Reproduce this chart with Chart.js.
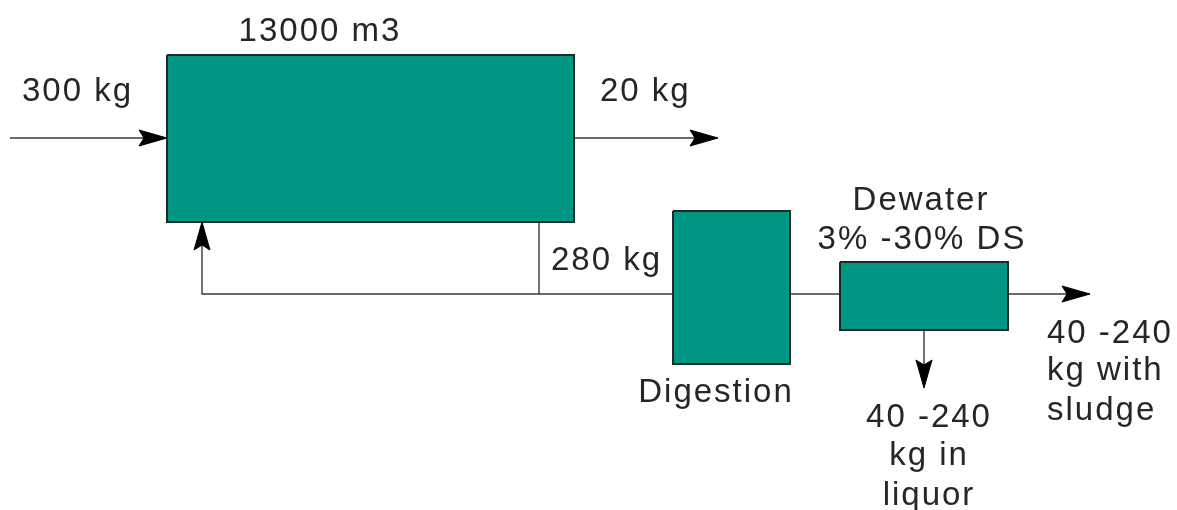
<!DOCTYPE html>
<html>
<head>
<meta charset="utf-8">
<script src="https://cdn.jsdelivr.net/npm/chart.js@4.4.0/dist/chart.umd.min.js"></script>
<style>
html,body{margin:0;padding:0;background:#fff;}
#wrap{width:1177px;height:510px;position:relative;}
</style>
</head>
<body>
<div id="wrap"><canvas id="c"></canvas></div>
<script>
// ---- diagram data ----
const boxNames  = ['Aeration', 'Digestion', 'Dewater'];
const boxLeft   = [167, 673, 840];
const boxRight  = [574, 790, 1008];
const boxTop    = [55, 211, 262];
const boxBottom = [222, 364, 330];

const pipeInlet     = [[10,138],[160,138]];
const pipeEffluent  = [[574,138],[712,138]];
const pipeRecycle   = [[539,222],[539,294],[202,294],[202,230]];
const pipeWaste     = [[539,294],[673,294]];
const pipeToDewater = [[790,294],[840,294]];
const pipeCake      = [[1008,294],[1085,294]];
const pipeLiquor    = [[924,330],[924,382]];

// arrow tips: x, y, direction
const arrowX   = [167, 718, 202, 1090, 924];
const arrowY   = [138, 138, 222, 294, 388];
const arrowDir = ['right', 'right', 'up', 'right', 'down'];

const labelText  = ['13000 m3', '300 kg', '20 kg', '280 kg', 'Digestion', 'Dewater', '3% -30% DS',
                    '40 -240', 'kg in', 'liquor', '40 -240', 'kg with', 'sludge'];
const labelX     = [320, 22, 600, 551, 716, 921, 922, 929, 929, 929, 1047, 1047, 1047];
const labelY     = [41, 101, 101, 270, 402, 210, 249, 427, 465, 505, 343, 380, 420];
const labelAlign = ['center','left','left','left','center','center','center','center','center','center','left','left','left'];

// ---- build datasets ----
const boxColor = '#009684';
const datasets = [];
function pts(arr){ return arr.map(p => ({x:p[0], y:p[1]})); }

[pipeInlet, pipeEffluent, pipeRecycle, pipeWaste, pipeToDewater, pipeCake, pipeLiquor].forEach(p => {
  datasets.push({type:'line', data: pts(p), borderColor:'#3a3a3a', borderWidth:1.4,
    pointRadius:0, fill:false, tension:0, order:2});
});

boxNames.forEach((n, i) => {
  datasets.push({type:'line', label:n,
    data: pts([[boxLeft[i],boxTop[i]],[boxRight[i],boxTop[i]],[boxRight[i],boxBottom[i]],[boxLeft[i],boxBottom[i]],[boxLeft[i],boxTop[i]]]),
    borderColor:'#1e2a28', borderWidth:2, backgroundColor:boxColor, fill:'shape',
    pointRadius:0, tension:0, order:1});
});

const headLen = 28, headHalf = 8, notch = 5;
arrowX.forEach((tx, i) => {
  const ty = arrowY[i], d = arrowDir[i];
  let poly;
  if (d === 'right') poly = [[tx,ty],[tx-headLen,ty-headHalf],[tx-headLen+notch,ty],[tx-headLen,ty+headHalf],[tx,ty]];
  else if (d === 'up') poly = [[tx,ty],[tx-headHalf,ty+headLen],[tx,ty+headLen-notch],[tx+headHalf,ty+headLen],[tx,ty]];
  else poly = [[tx,ty],[tx-headHalf,ty-headLen],[tx,ty-headLen+notch],[tx+headHalf,ty-headLen],[tx,ty]];
  datasets.push({type:'line', data: pts(poly), borderColor:'#000', borderWidth:1,
    backgroundColor:'#000', fill:'shape', pointRadius:0, tension:0, order:0});
});

const labelPlugin = {
  id:'labels',
  afterDatasetsDraw(chart){
    const {ctx, scales:{x, y}} = chart;
    ctx.save();
    ctx.fillStyle = '#262626';
    ctx.font = '33px "Liberation Sans", Arial, sans-serif';
    ctx.textBaseline = 'alphabetic';
    try { ctx.letterSpacing = '2px'; } catch(e) {}
    labelText.forEach((t, i) => {
      ctx.textAlign = labelAlign[i];
      ctx.fillText(t, x.getPixelForValue(labelX[i]), y.getPixelForValue(labelY[i]));
    });
    ctx.restore();
  }
};

new Chart(document.getElementById('c'), {
  type:'scatter',
  data:{datasets},
  options:{
    responsive:true, maintainAspectRatio:false, animation:false,
    layout:{padding:0},
    plugins:{legend:{display:false}, tooltip:{enabled:false}},
    scales:{
      x:{type:'linear', min:0, max:1177, display:false},
      y:{type:'linear', min:0, max:510, reverse:true, display:false}
    }
  },
  plugins:[labelPlugin]
});
</script>
</body>
</html>
